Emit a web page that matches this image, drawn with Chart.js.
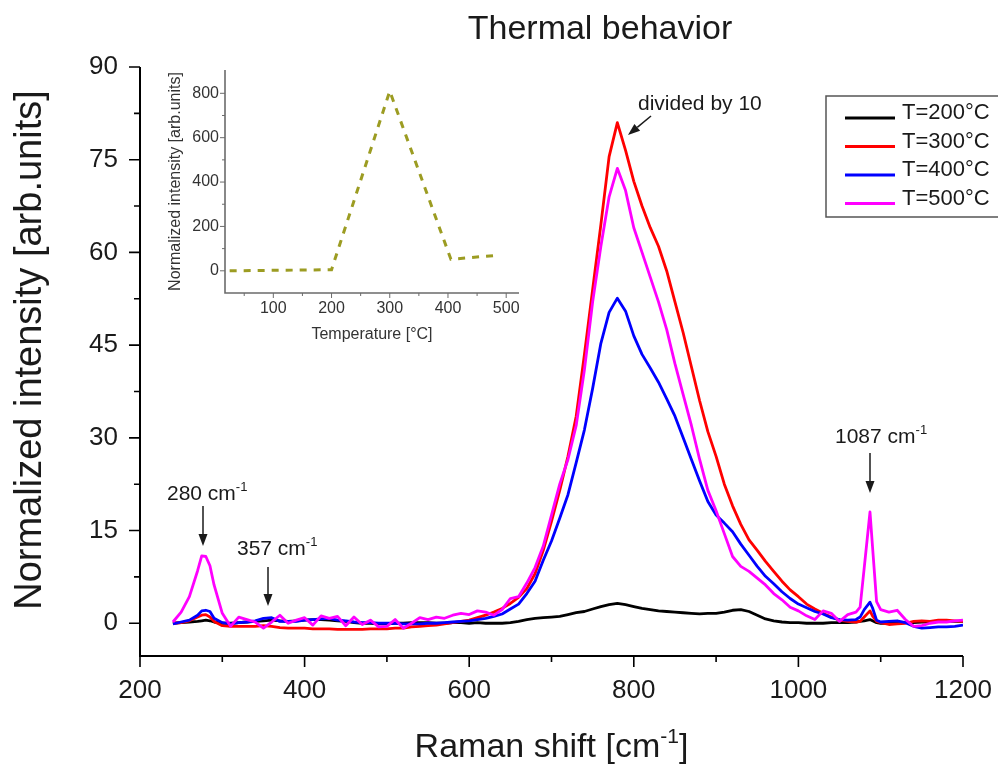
<!DOCTYPE html>
<html>
<head>
<meta charset="utf-8">
<title>Thermal behavior</title>
<style>
  html, body { margin: 0; padding: 0; background: #fff; }
  #wrap { position: relative; width: 998px; height: 765px; overflow: hidden; }
  #main { position: absolute; left: 0; top: 0; }
  #inset { position: absolute; left: 140px; top: 55px; }
</style>
<script src="https://cdn.jsdelivr.net/npm/chart.js@4"></script>
</head>
<body>
<div id="wrap">
  <canvas id="main" width="998" height="765"></canvas>
  <canvas id="inset" width="400" height="300"></canvas>
</div>
<script>
const FONT = '"Liberation Sans", Arial, Helvetica, sans-serif';
const TEXT = "#1a1a1a";

// Raman shift axis, cm-1 (finer around the 280 and 1087 bands)
const ramanShift = [
  240, 250, 260, 270, 275, 280, 285, 290,
  300, 310, 320, 330, 340, 350, 360, 370, 380, 390,
  400, 410, 420, 430, 440, 450, 460, 470, 480, 490,
  500, 510, 520, 530, 540, 550, 560, 570, 580, 590,
  600, 610, 620, 630, 640, 650, 660, 670, 680, 690,
  700, 710, 720, 730, 740, 750, 760, 770, 780, 790,
  800, 810, 820, 830, 840, 850, 860, 870, 880, 890,
  900, 910, 920, 930, 940, 950, 960, 970, 980, 990,
  1000, 1010, 1020, 1030, 1040, 1050, 1060, 1070, 1075, 1080, 1087, 1090, 1095,
  1100, 1110, 1120, 1130, 1140, 1150, 1160, 1170, 1180, 1190, 1200
];

const int200 = [
  0.0, 0.1, 0.2, 0.3, 0.4, 0.5, 0.4, 0.2,
  0.0, 0.0, 0.1, 0.2, 0.3, 0.4, 0.5, 0.4, 0.3, 0.4,
  0.5, 0.6, 0.6, 0.5, 0.4, 0.3, 0.1, 0.0, 0.0, -0.1,
  -0.1, 0.0, 0.0, 0.1, 0.1, 0.1, 0.0, 0.0, 0.1, 0.1,
  0.0, 0.1, 0.0, 0.0, 0.0, 0.1, 0.3, 0.6, 0.8, 0.9,
  1.0, 1.1, 1.4, 1.7, 1.9, 2.3, 2.7, 3.0, 3.2, 3.0,
  2.7, 2.4, 2.2, 2.0, 1.9, 1.8, 1.7, 1.6, 1.5, 1.6,
  1.6, 1.8, 2.1, 2.2, 1.9, 1.3, 0.7, 0.4, 0.2, 0.1,
  0.1, 0.0, 0.0, 0.0, 0.1, 0.1, 0.1, 0.2, 0.3, 0.4, 0.6, 0.4, 0.1,
  0.0, 0.0, 0.1, 0.1, 0.1, 0.2, 0.2, 0.3, 0.3, 0.3, 0.3
];

const int300 = [
  0.0, 0.1, 0.4, 1.0, 1.3, 1.4, 1.0, 0.3,
  -0.4, -0.5, -0.5, -0.5, -0.5, -0.4, -0.5, -0.7, -0.8, -0.8,
  -0.8, -0.9, -0.9, -0.9, -1.0, -1.0, -1.0, -1.0, -0.9, -0.9,
  -0.9, -0.8, -0.8, -0.6, -0.5, -0.4, -0.3, -0.1, 0.1, 0.3,
  0.5, 0.9, 1.3, 1.8, 2.4, 3.2, 4.2, 5.6, 8.0, 11.8,
  16.5, 21.5, 27.0, 33.5, 43.5, 54.0, 64.5, 75.5, 81.0, 76.5,
  71.5, 67.5, 64.0, 61.0, 57.0, 52.0, 47.0, 41.5, 36.0, 31.0,
  27.0, 22.5, 19.0, 16.0, 13.5, 11.8, 10.0, 8.4, 6.8, 5.4,
  4.3, 3.1, 2.3, 1.6, 1.0, 0.5, 0.3, 0.2, 0.3, 1.0, 2.0, 1.2, 0.3,
  0.1, -0.2, -0.1, 0.0, 0.3, 0.4, 0.3, 0.5, 0.5, 0.4, 0.3
];

const int400 = [
  -0.1, 0.2, 0.5, 1.3, 2.0, 2.1, 1.9, 0.8,
  0.1, -0.1, 0.1, 0.2, 0.4, 0.8, 0.9, 0.3, 0.3, 0.3,
  0.5, 0.6, 0.7, 0.8, 0.5, 0.4, 0.2, 0.1, 0.1, 0.0,
  0.0, 0.0, -0.1, -0.1, -0.1, 0.0, 0.0, 0.1, 0.2, 0.3,
  0.4, 0.6, 0.8, 1.1, 1.5, 2.3, 3.1, 4.8, 6.8, 10.2,
  13.3, 17.0, 20.8, 26.0, 31.3, 38.0, 45.3, 50.3, 52.6, 50.5,
  46.5, 43.5, 41.3, 39.0, 36.3, 33.5, 30.0, 26.5, 23.0, 19.7,
  17.5, 16.2, 14.8, 12.8, 11.0, 9.2, 7.6, 6.4, 5.1, 4.0,
  3.1, 2.5, 1.9, 1.5, 0.9, 0.6, 0.5, 0.6, 1.0, 2.2, 3.4, 2.5, 0.5,
  0.2, 0.3, 0.4, 0.1, -0.5, -0.8, -0.7, -0.6, -0.6, -0.5, -0.3
];

const int500 = [
  0.2, 1.8, 4.3, 8.5, 10.9, 10.8, 9.3, 6.2,
  1.6, -0.5, 1.0, 0.6, 0.2, -0.8, 0.2, 1.3, 0.0, 0.5,
  0.9, -0.3, 1.2, 0.8, 1.1, -0.4, 1.0, -0.2, 0.5, -0.6,
  -0.5, 0.6, -0.8, 0.0, 0.9, 0.6, 1.0, 0.8, 1.3, 1.6,
  1.4, 2.0, 1.8, 1.3, 2.2, 4.0, 4.3, 6.5, 9.0, 12.5,
  17.5, 22.5, 26.5, 32.0, 41.0, 52.0, 61.0, 69.0, 73.6, 70.0,
  64.0, 60.0, 56.0, 52.0, 47.5, 42.0, 37.0, 32.0, 26.5, 21.5,
  18.2, 14.5, 10.8, 9.2, 8.4, 7.3, 6.2, 4.8, 3.8, 2.6,
  2.0, 1.2, 0.6, 2.0, 1.6, 0.3, 1.4, 1.8, 2.6, 9.0, 18.0, 12.5, 3.5,
  2.2, 1.8, 2.1, 0.6, -0.5, -0.4, 0.0, 0.2, 0.2, 0.4, 0.5
];

const seriesLabels = ["T=200°C", "T=300°C", "T=400°C", "T=500°C"];
const seriesColors = ["#000000", "#ff0000", "#0000ff", "#ff00ff"];
const seriesValues = [int200, int300, int400, int500];

const xTicks = [200, 400, 600, 800, 1000, 1200];
const xMinor = [300, 500, 700, 900, 1100];
const yTicks = [0, 15, 30, 45, 60, 75, 90];
const yMinor = [7.5, 22.5, 37.5, 52.5, 67.5, 82.5];

// inset: integrated intensity vs temperature
const insetTemp = [25, 200, 300, 405, 485];
const insetIntensity = [0, 5, 810, 52, 70];
const insetXTicks = [100, 200, 300, 400, 500];
const insetXMinor = [50, 150, 250, 350, 450];
const insetYTicks = [0, 200, 400, 600, 800];
const insetYMinor = [100, 300, 500, 700];

// draws the axis lines and outward tick marks (major + minor)
const axisMarks = {
  id: "axisMarks",
  afterDraw(chart, args, o) {
    const { ctx, chartArea: a, scales: { x, y } } = chart;
    ctx.save();
    ctx.strokeStyle = o.color;
    ctx.lineWidth = o.tickWidth;
    ctx.beginPath();
    o.xMajor.forEach(v => { const px = x.getPixelForValue(v); ctx.moveTo(px, a.bottom); ctx.lineTo(px, a.bottom + o.major); });
    o.xMinor.forEach(v => { const px = x.getPixelForValue(v); ctx.moveTo(px, a.bottom); ctx.lineTo(px, a.bottom + o.minor); });
    o.yMajor.forEach(v => { const py = y.getPixelForValue(v); ctx.moveTo(a.left, py); ctx.lineTo(a.left - o.major, py); });
    o.yMinor.forEach(v => { const py = y.getPixelForValue(v); ctx.moveTo(a.left, py); ctx.lineTo(a.left - o.minor, py); });
    ctx.stroke();
    ctx.lineWidth = o.lineWidth;
    ctx.beginPath();
    ctx.moveTo(a.left, a.top);
    ctx.lineTo(a.left, a.bottom);
    ctx.lineTo(a.right, a.bottom);
    ctx.stroke();
    ctx.restore();
  }
};

// text made of runs, some of them superscript
function richText(ctx, parts, x, y, size, align) {
  const widths = parts.map(p => {
    ctx.font = (p.sup ? size * 0.62 : size) + "px " + FONT;
    return ctx.measureText(p.t).width;
  });
  const total = widths.reduce((s, w) => s + w, 0);
  let cx = align === "center" ? x - total / 2 : align === "right" ? x - total : x;
  ctx.textAlign = "left";
  ctx.textBaseline = "alphabetic";
  parts.forEach((p, i) => {
    ctx.font = (p.sup ? size * 0.62 : size) + "px " + FONT;
    ctx.fillText(p.t, cx, p.sup ? y - size * 0.42 : y);
    cx += widths[i];
  });
}

function arrow(ctx, x1, y1, x2, y2) {
  const ang = Math.atan2(y2 - y1, x2 - x1);
  const len = 12, half = 4.5;
  const bx = x2 - len * Math.cos(ang), by = y2 - len * Math.sin(ang);
  ctx.beginPath();
  ctx.moveTo(x1, y1);
  ctx.lineTo(bx, by);
  ctx.stroke();
  ctx.beginPath();
  ctx.moveTo(x2, y2);
  ctx.lineTo(bx + half * Math.sin(ang), by - half * Math.cos(ang));
  ctx.lineTo(bx - half * Math.sin(ang), by + half * Math.cos(ang));
  ctx.closePath();
  ctx.fill();
}

// title, axis titles, peak labels and legend box
const decorations = {
  id: "decorations",
  afterDraw(chart) {
    const { ctx, chartArea: a } = chart;
    ctx.save();
    ctx.fillStyle = TEXT;
    ctx.strokeStyle = TEXT;

    ctx.font = "34px " + FONT;
    ctx.textAlign = "center";
    ctx.textBaseline = "middle";
    ctx.fillText("Thermal behavior", 600, 30);

    richText(ctx, [{ t: "Raman shift [cm" }, { t: "-1", sup: true }, { t: "]" }],
      (a.left + a.right) / 2, 757, 34, "center");

    ctx.save();
    ctx.translate(41, 350);
    ctx.rotate(-Math.PI / 2);
    richText(ctx, [{ t: "Normalized intensity [arb.units]" }], 0, 0, 38, "center");
    ctx.restore();

    ctx.font = "21px " + FONT;
    ctx.textAlign = "left";
    ctx.textBaseline = "middle";
    ctx.fillText("divided by 10", 638, 104);
    richText(ctx, [{ t: "280 cm" }, { t: "-1", sup: true }], 167, 500, 21, "left");
    richText(ctx, [{ t: "357 cm" }, { t: "-1", sup: true }], 237, 555, 21, "left");
    richText(ctx, [{ t: "1087 cm" }, { t: "-1", sup: true }], 835, 443, 21, "left");

    ctx.lineWidth = 1.5;
    arrow(ctx, 651, 116, 628, 135);
    arrow(ctx, 203, 506, 203, 546);
    arrow(ctx, 268, 567, 268, 606);
    arrow(ctx, 870, 453, 870, 493);

    // legend
    ctx.lineWidth = 1.5;
    ctx.strokeStyle = "#555";
    ctx.strokeRect(826, 96, 190, 121);
    ctx.font = "22px " + FONT;
    seriesLabels.forEach((lab, i) => {
      const yy = 118 + i * 28.5;
      ctx.strokeStyle = seriesColors[i];
      ctx.lineWidth = 3;
      ctx.beginPath();
      ctx.moveTo(845, yy);
      ctx.lineTo(895, yy);
      ctx.stroke();
      ctx.fillStyle = TEXT;
      ctx.fillText(lab, 902, yy + 1);
    });
    ctx.restore();
  }
};

const datasets = seriesValues.map((vals, i) => ({
  label: seriesLabels[i],
  data: ramanShift.map((x, k) => ({ x: x, y: vals[k] })),
  borderColor: seriesColors[i],
  borderWidth: 2.8,
  pointRadius: 0,
  tension: 0,
  borderJoinStyle: "round",
  order: 4 - i
}));

const plain = v => String(v);
const noSidePad = s => { s.paddingLeft = 0; s.paddingRight = 0; };

new Chart(document.getElementById("main"), {
  type: "line",
  data: { datasets: datasets },
  options: {
    responsive: false,
    animation: false,
    layout: { padding: { top: 67, right: 35, left: 0, bottom: 0 } },
    plugins: {
      legend: { display: false },
      tooltip: { enabled: false },
      axisMarks: {
        color: "#000", lineWidth: 2, tickWidth: 1.6, major: 11, minor: 6,
        xMajor: xTicks, xMinor: xMinor, yMajor: yTicks, yMinor: yMinor
      }
    },
    scales: {
      x: {
        type: "linear", min: 200, max: 1200,
        grid: { display: false, drawTicks: false },
        border: { display: false },
        afterBuildTicks: s => { s.ticks = xTicks.map(v => ({ value: v })); },
        afterFit: s => { s.height = 109; noSidePad(s); },
        ticks: { padding: 19, color: TEXT, font: { family: FONT, size: 26 }, maxRotation: 0, callback: plain }
      },
      y: {
        type: "linear", min: -5.3, max: 90,
        grid: { display: false, drawTicks: false },
        border: { display: false },
        afterBuildTicks: s => { s.ticks = yTicks.map(v => ({ value: v })); },
        afterFit: s => { s.width = 140; s.paddingTop = 0; s.paddingBottom = 0; },
        ticks: { padding: 22, color: TEXT, font: { family: FONT, size: 26 }, callback: plain }
      }
    }
  },
  plugins: [axisMarks, decorations]
});

// inset axis titles
const insetTitles = {
  id: "insetTitles",
  afterDraw(chart) {
    const { ctx, chartArea: a } = chart;
    ctx.save();
    ctx.fillStyle = "#333";
    ctx.font = "16px " + FONT;
    ctx.textAlign = "center";
    ctx.textBaseline = "middle";
    ctx.fillText("Temperature [°C]", (a.left + a.right) / 2, 280);
    ctx.translate(36, (a.top + a.bottom) / 2);
    ctx.rotate(-Math.PI / 2);
    ctx.fillText("Normalized intensity [arb.units]", 0, 0);
    ctx.restore();
  }
};

new Chart(document.getElementById("inset"), {
  type: "line",
  data: {
    datasets: [{
      data: insetTemp.map((t, k) => ({ x: t, y: insetIntensity[k] })),
      borderColor: "#9c9c22",
      borderWidth: 3,
      borderDash: [7, 7],
      pointRadius: 0,
      tension: 0
    }]
  },
  options: {
    responsive: false,
    animation: false,
    layout: { padding: { top: 15, right: 21, left: 0, bottom: 0 } },
    plugins: {
      legend: { display: false },
      tooltip: { enabled: false },
      axisMarks: {
        color: "#6b6b6b", lineWidth: 1.6, tickWidth: 1, major: 5, minor: 3,
        xMajor: insetXTicks, xMinor: insetXMinor, yMajor: insetYTicks, yMinor: insetYMinor
      }
    },
    scales: {
      x: {
        type: "linear", min: 17, max: 522,
        grid: { display: false, drawTicks: false },
        border: { display: false },
        afterBuildTicks: s => { s.ticks = insetXTicks.map(v => ({ value: v })); },
        afterFit: s => { s.height = 62; noSidePad(s); },
        ticks: { padding: 6, color: "#333", font: { family: FONT, size: 16 }, maxRotation: 0, callback: plain }
      },
      y: {
        type: "linear", min: -100, max: 905,
        grid: { display: false, drawTicks: false },
        border: { display: false },
        afterBuildTicks: s => { s.ticks = insetYTicks.map(v => ({ value: v })); },
        afterFit: s => { s.width = 85; s.paddingTop = 0; s.paddingBottom = 0; },
        ticks: { padding: 6, color: "#333", font: { family: FONT, size: 16 }, callback: plain }
      }
    }
  },
  plugins: [axisMarks, insetTitles]
});
</script>
</body>
</html>
